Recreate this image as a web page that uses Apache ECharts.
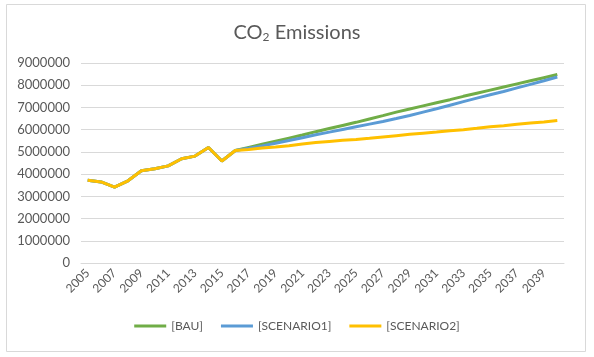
<!DOCTYPE html>
<html>
<head>
<meta charset="utf-8">
<script src="https://cdn.jsdelivr.net/npm/echarts@6/dist/echarts.min.js"></script>
<style>
html,body{margin:0;padding:0;background:#fff;}
#chart{width:594px;height:357px;}
</style>
</head>
<body>
<div id="chart"></div>
<script>
const years = ["2005","2006","2007","2008","2009","2010","2011","2012","2013","2014","2015","2016","2017","2018","2019","2020","2021","2022","2023","2024","2025","2026","2027","2028","2029","2030","2031","2032","2033","2034","2035","2036","2037","2038","2039","2040"];
const history = [3720000,3650000,3410000,3700000,4150000,4240000,4370000,4690000,4810000,5200000,4590000,5060000];
const bauFuture = [5200000,5340000,5480000,5620000,5760000,5910000,6050000,6190000,6330000,6480000,6630000,6790000,6930000,7070000,7210000,7350000,7500000,7640000,7780000,7920000,8060000,8200000,8340000,8480000];
const scenario1Future = [5160000,5270000,5390000,5510000,5640000,5770000,5890000,6010000,6130000,6250000,6370000,6500000,6640000,6790000,6940000,7100000,7260000,7420000,7570000,7720000,7880000,8040000,8200000,8370000];
const scenario2Future = [5110000,5170000,5220000,5280000,5350000,5420000,5470000,5520000,5560000,5610000,5670000,5730000,5790000,5840000,5890000,5950000,6000000,6060000,6130000,6180000,6240000,6300000,6350000,6410000];
const seriesNames = ["[BAU]","[SCENARIO1]","[SCENARIO2]"];
const yTicks = [0,1000000,2000000,3000000,4000000,5000000,6000000,7000000,8000000,9000000];

const bau = history.concat(bauFuture);
const scenario1 = history.concat(scenario1Future);
const scenario2 = history.concat(scenario2Future);

const font = "Lato, 'Open Sans', sans-serif";
const chart = echarts.init(document.getElementById('chart'), null, {renderer:'canvas'});
chart.setOption({
  animation:false,
  backgroundColor:'#ffffff',
  graphic:[{type:'rect',shape:{x:6.5,y:4.5,width:579,height:347},style:{fill:'none',stroke:'#d9d9d9',lineWidth:1},silent:true}],
  title:{
    text:'CO{sub|2} Emissions',
    left:'center', top:17,
    textStyle:{fontFamily:font,fontSize:20,color:'#595959',fontWeight:'normal',
      rich:{sub:{fontFamily:font,fontSize:12,color:'#595959',verticalAlign:'bottom',padding:[9,0,0,0]}}}
  },
  color:['#70AD47','#5B9BD5','#FFC000'],
  legend:{
    data:seriesNames, bottom:20, left:'center',
    icon:'rect', itemWidth:32, itemHeight:3, itemGap:18,
    textStyle:{fontFamily:font,fontSize:12,color:'#595959'}
  },
  grid:{left:81,right:30,top:63,bottom:94,containLabel:false},
  xAxis:{
    type:'category', data:years, boundaryGap:true,
    axisLine:{show:true,lineStyle:{color:'#d9d9d9'}},
    axisTick:{show:false},
    axisLabel:{interval:1,rotate:45,fontFamily:font,fontSize:12,color:'#595959',margin:8}
  },
  yAxis:{
    type:'value', min:yTicks[0], max:yTicks[yTicks.length-1], interval:1000000,
    axisLine:{show:false}, axisTick:{show:false},
    splitLine:{lineStyle:{color:'#d9d9d9'}},
    axisLabel:{fontFamily:font,fontSize:13,color:'#595959',margin:11,formatter:function(v){return String(v);}}
  },
  series:[
    {name:seriesNames[0],type:'line',data:bau,symbol:'none',lineStyle:{width:3}},
    {name:seriesNames[1],type:'line',data:scenario1,symbol:'none',lineStyle:{width:3}},
    {name:seriesNames[2],type:'line',data:scenario2,symbol:'none',lineStyle:{width:3}}
  ]
});
</script>
</body>
</html>
